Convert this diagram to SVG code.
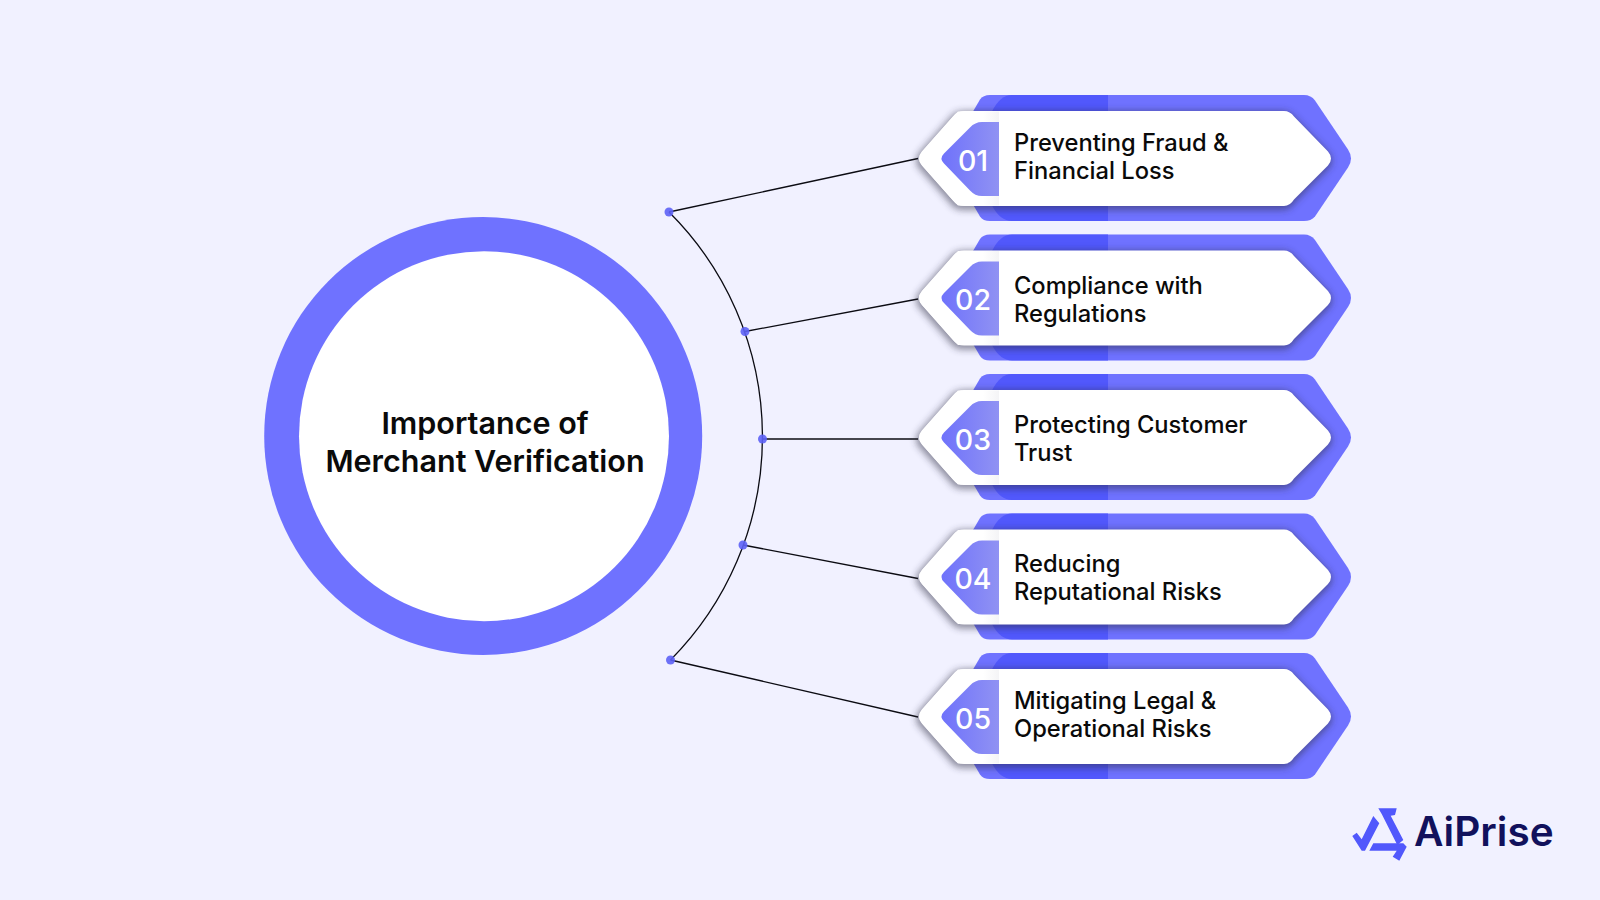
<svg xmlns="http://www.w3.org/2000/svg" width="1600" height="900" viewBox="0 0 1600 900">
<defs>
<style>
.t{font-family:Inter,"Liberation Sans",sans-serif;font-weight:500;font-size:23.7px;fill:#0a0a0a}
.n{font-family:Inter,"Liberation Sans",sans-serif;font-weight:500;font-size:28.5px;fill:#fff;text-anchor:middle}
.c{font-family:Inter,"Liberation Sans",sans-serif;font-weight:600;font-size:30.5px;fill:#0a0a0a;text-anchor:middle}
.l{fill:none;stroke:#0b0b12;stroke-width:1.3}
.d{fill:#5d62f6;opacity:.9}
</style>
<linearGradient id="b" x1="0" x2="1" y1="0" y2="0"><stop offset="0" stop-color="#6f72fb"/><stop offset="1" stop-color="#9092f3"/></linearGradient>
<linearGradient id="w" x1="0" x2="1" y1="0" y2="0"><stop offset="0" stop-color="#fff"/><stop offset=".8" stop-color="#fff"/><stop offset="1" stop-color="#f4f4f6"/></linearGradient>
<filter id="s" x="-10%" y="-25%" width="120%" height="150%"><feGaussianBlur stdDeviation="3.500"/></filter>
<path id="plate" d="M922 -7 L953 -42 Q957 -47.500 964 -47.500 H1284 Q1290 -47.500 1294 -42 L1328 -7 Q1334 0 1328 7 L1294 41 Q1290 47.500 1284 47.500 H964 Q957 47.500 953 42 L922 7 Q916 0 922 -7Z"/>
<g id="card">
<path d="M973 -47 L980 -59 Q983 -63.500 990 -63.500 H1304 Q1311 -63.500 1315 -58 L1348 -9 Q1354 0 1348 9 L1315 58 Q1311 62.500 1304 62.500 H990 Q983 62.500 980 58 L973 46Z" fill="#6f72ff"/>
<path d="M1012 -63.500 H1108 V62.500 H1012 Q1000 62.500 992 47 V-47 Q1000 -63.500 1012 -63.500Z" fill="#5158fc"/>
<use href="#plate" x="-1" y="2" fill="#2a2a40" stroke="#2a2a40" stroke-width="4" opacity=".5" filter="url(#s)"/>
<use href="#plate" fill="#fff"/>
<path d="M958 -47 H999 V47 H958 L953 42 L922 7 Q916 0 922 -7 L953 -42Z" fill="url(#w)"/>
<path d="M944 -5 L970 -31 Q975 -36.500 982 -36.500 H999 V37.500 H982 Q975 37.500 970 32 L944 5 Q939 0 944 -5Z" fill="url(#b)"/>
</g>
</defs>
<rect width="1600" height="900" fill="#f1f1ff"/>
<g id="connectors">
<path class="l" d="M669 212 A 317 317 0 0 1 670.500 660"/>
<path class="l" d="M669 212 L918 158.500"/>
<path class="l" d="M745 331.500 L918 299"/>
<path class="l" d="M762.500 439 H918"/>
<path class="l" d="M743 545 L918 578.500"/>
<path class="l" d="M670.500 660 L918 717"/>
<circle class="d" cx="669" cy="212" r="4.500"/>
<circle class="d" cx="745" cy="331.500" r="4.500"/>
<circle class="d" cx="762.500" cy="439" r="4.500"/>
<circle class="d" cx="743" cy="545" r="4.500"/>
<circle class="d" cx="670.500" cy="660" r="4.500"/>
</g>
<g id="center">
<circle cx="483.200" cy="436" r="219" fill="#6f72ff"/>
<circle cx="484" cy="436.200" r="185" fill="#fff"/>
<text class="c" x="485" y="434">Importance of</text>
<text class="c" x="485" y="472">Merchant Verification</text>
</g>
<g id="node-01" transform="translate(0,158.500)"><use href="#card"/><text class="n" x="973" y="12">01</text><text class="t" x="1014" y="-8">Preventing Fraud &amp;</text><text class="t" x="1014" y="20.500">Financial Loss</text></g>
<g id="node-02" transform="translate(0,298)"><use href="#card"/><text class="n" x="973" y="12">02</text><text class="t" x="1014" y="-4">Compliance with</text><text class="t" x="1014" y="24">Regulations</text></g>
<g id="node-03" transform="translate(0,437.500)"><use href="#card"/><text class="n" x="973" y="12">03</text><text class="t" x="1014" y="-5">Protecting Customer</text><text class="t" x="1014" y="23">Trust</text></g>
<g id="node-04" transform="translate(0,577)"><use href="#card"/><text class="n" x="973" y="12">04</text><text class="t" x="1014" y="-5">Reducing</text><text class="t" x="1014" y="23">Reputational Risks</text></g>
<g id="node-05" transform="translate(0,716.500)"><use href="#card"/><text class="n" x="973" y="12">05</text><text class="t" x="1014" y="-8">Mitigating Legal &amp;</text><text class="t" x="1014" y="20">Operational Risks</text></g>
<g id="logo" fill="#5158fc">
<path d="M1352.300 836 L1356.700 832.700 L1361.700 839.300 L1373.300 816 L1379.300 823.300 L1365 850.700 H1361.700Z"/>
<path d="M1378.300 808.300 H1396.700 L1395 815 L1390.700 815.700 L1403.300 840 L1397.300 845 L1381.700 814Z"/>
<path d="M1373.300 843.300 H1403.300 L1406.700 846.700 L1399.300 860.700 L1392.700 856.700 L1396.700 850.700 H1369.300Z"/>
<text x="1414" y="846" font-family="Inter,'Liberation Sans',sans-serif" font-weight="600" font-size="40.500px" fill="#11115c">AiPrise</text>
</g>
</svg>
